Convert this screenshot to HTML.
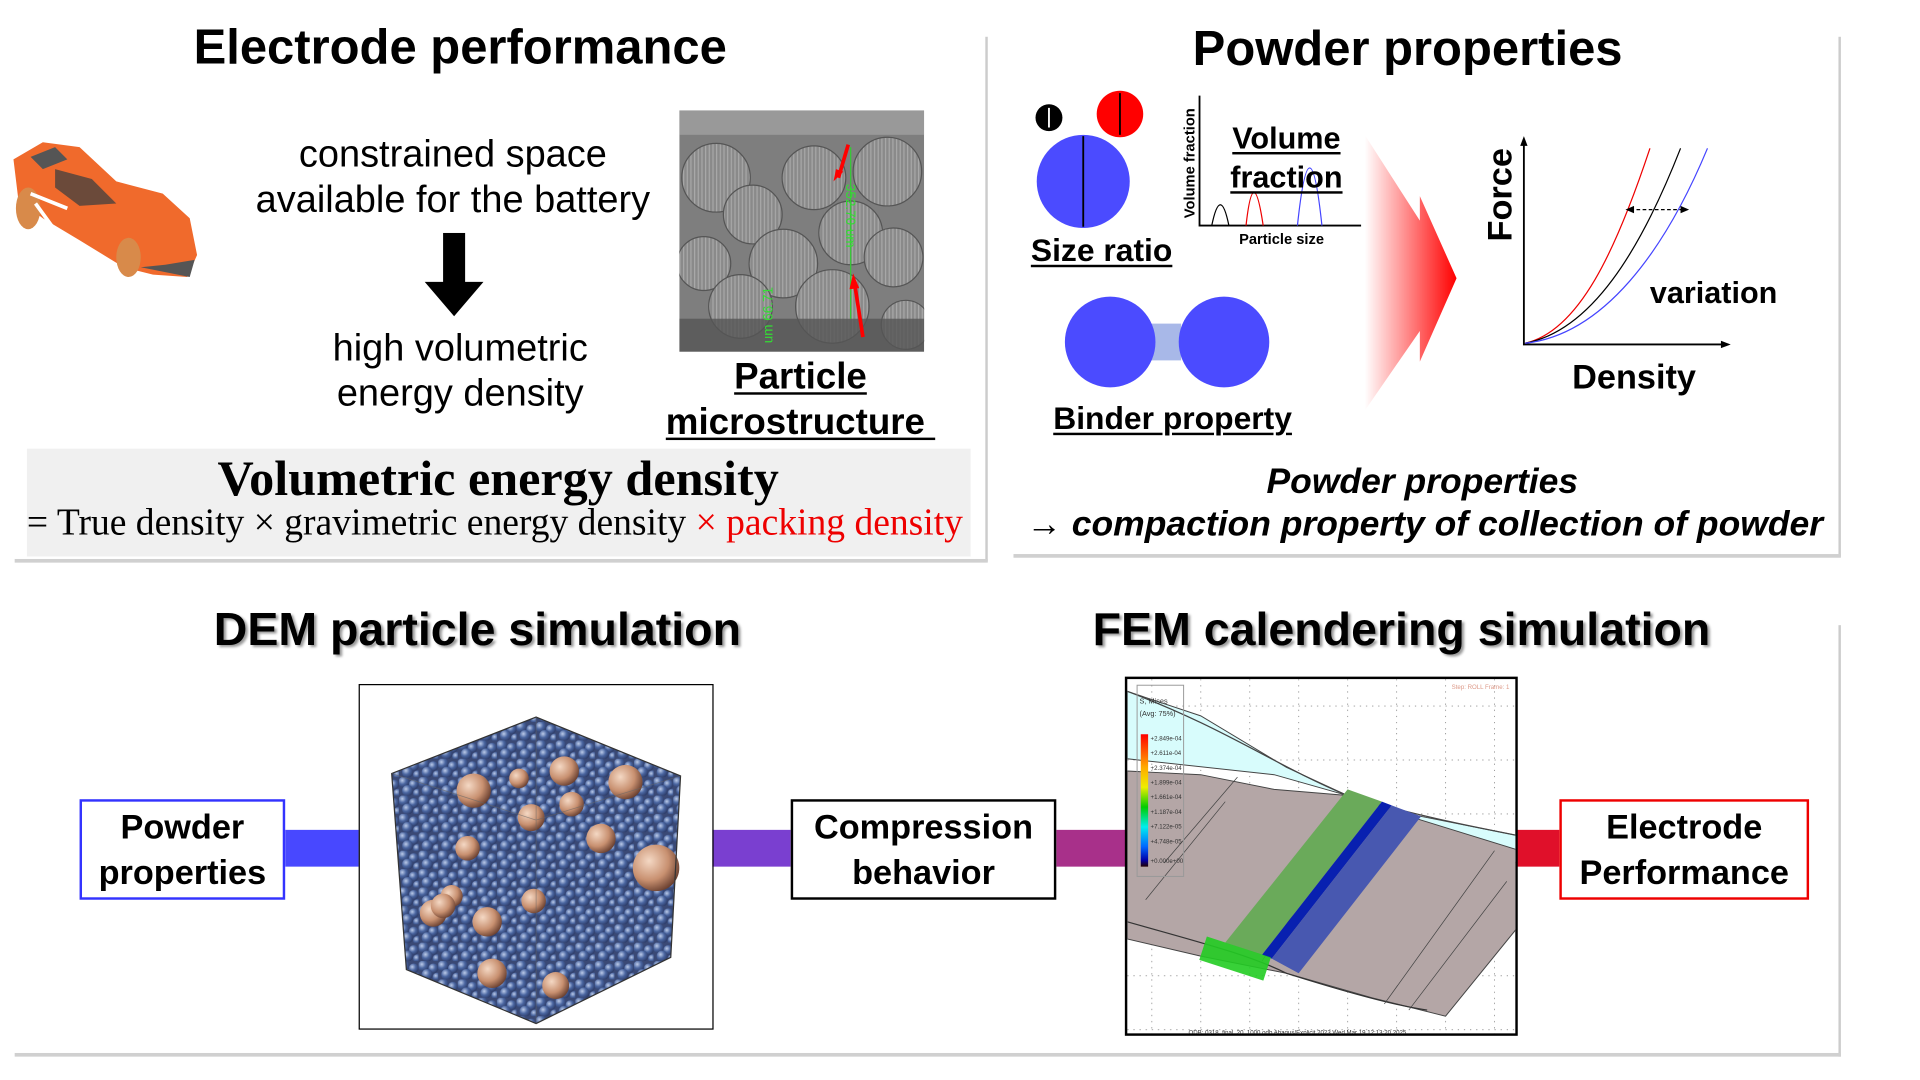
<!DOCTYPE html>
<html><head><meta charset="utf-8"><style>
html,body{margin:0;padding:0;background:#fff;width:1920px;height:1080px;overflow:hidden}
#w{position:absolute;left:0;top:0;width:1548px;height:871px;transform:scale(1.2240,1.2258);transform-origin:0 0;font-family:"Liberation Sans",sans-serif;color:#000}
.t{position:absolute;white-space:nowrap;text-align:center;transform:translateX(-50%)}
.b{font-weight:bold}
.u{text-decoration:underline;text-decoration-thickness:2px;text-underline-offset:3px}
.box{position:absolute;box-sizing:border-box;background:#fff;font-weight:bold;font-size:28px;line-height:37px;text-align:center;display:flex;align-items:center;justify-content:center}
.bar{position:absolute;top:677px;height:30px}
</style></head><body><div id="w">
<div style="position:absolute;left:805px;top:30px;width:2px;height:428px;background:#ccc"></div>
<div style="position:absolute;left:12px;top:456px;width:795px;height:3px;background:#d0d0d0"></div>
<div style="position:absolute;left:1502px;top:30px;width:2px;height:424px;background:#ccc"></div>
<div style="position:absolute;left:828px;top:452px;width:676px;height:3px;background:#d0d0d0"></div>
<div style="position:absolute;left:1502px;top:510px;width:2px;height:352px;background:#ccc"></div>
<div style="position:absolute;left:12px;top:859px;width:1492px;height:3px;background:#d0d0d0"></div>

<div class="t b" style="left:376px;top:17px;font-size:40px">Electrode performance</div>
<div class="t" style="left:370px;top:107px;font-size:31px;line-height:37px">constrained space<br>available for the battery</div>
<svg style="position:absolute;left:345px;top:190px" width="52" height="70"><polygon points="17,0 35,0 35,40 50,40 26,68 2,40 17,40" fill="#000"/></svg>
<div class="t" style="left:376px;top:265px;font-size:31px;line-height:37px">high volumetric<br>energy density</div>

<svg style="position:absolute;left:5px;top:108px" width="160" height="122">
<path d="M6,22 L30,8 L60,12 L90,40 L128,50 L150,70 L156,100 L148,118 L120,116 L96,110 L60,88 L30,70 L10,55 Z" fill="#f06a2c"/>
<path d="M20,20 L40,12 L50,22 L30,30 Z" fill="#555"/>
<path d="M40,30 L70,38 L90,58 L60,60 L40,45 Z" fill="#6b4a3a"/>
<ellipse cx="18" cy="62" rx="10" ry="17" fill="#d88a4a"/>
<ellipse cx="100" cy="102" rx="10" ry="16" fill="#d88a4a"/>
<path d="M110,110 L150,118 L154,104 L130,108 Z" fill="#555"/>
<path d="M20,50 L50,62 M24,58 L40,80" stroke="#fff" stroke-width="3"/>
</svg>

<svg style="position:absolute;left:555px;top:90px" width="200" height="197">
<defs><pattern id="vl" width="3" height="10" patternUnits="userSpaceOnUse"><rect width="3" height="10" fill="#8a8a8a"/><rect width="1" height="10" fill="#a8a8a8"/></pattern></defs>
<rect width="200" height="197" fill="#7e7e7e"/>
<rect width="200" height="20" fill="#999"/>
<g fill="url(#vl)" stroke="#555" stroke-width="1">
<circle cx="30" cy="55" r="28"/><circle cx="110" cy="55" r="26"/><circle cx="170" cy="50" r="28"/><circle cx="60" cy="85" r="24"/><circle cx="140" cy="100" r="26"/><circle cx="20" cy="125" r="22"/><circle cx="85" cy="125" r="28"/><circle cx="175" cy="120" r="24"/><circle cx="50" cy="160" r="26"/><circle cx="125" cy="160" r="30"/><circle cx="185" cy="175" r="20"/></g>
<rect y="170" width="200" height="27" fill="#555" opacity=".8"/>
<line x1="140" y1="30" x2="140" y2="170" stroke="#3c3" stroke-width="1"/>
<text x="136" y="60" fill="#3d3" font-size="11" transform="rotate(90 136 60)">352.70 um</text>
<text x="76" y="190" fill="#3d3" font-size="11" transform="rotate(-90 76 190)">um 66.71</text>
<path d="M138,28 L130,55" stroke="red" stroke-width="3"/><polygon points="126,58 128,48 134,50" fill="red"/>
<path d="M150,185 L143,140" stroke="red" stroke-width="3"/><polygon points="142,133 139,146 147,145" fill="red"/>
</svg>
<div class="t b u" style="left:654px;top:289px;font-size:30px;line-height:37px">Particle<br>microstructure&nbsp;</div>

<div style="position:absolute;left:22px;top:366px;width:771px;height:88px;background:#f0f0f0"></div>
<div class="t b" style="left:407px;top:366px;font-size:41px;font-family:'Liberation Serif',serif">Volumetric energy density</div>
<div style="position:absolute;left:22px;top:409px;font-size:30.7px;font-family:'Liberation Serif',serif;white-space:nowrap">= True density × gravimetric energy density <span style="color:#e00">× packing density</span></div>

<div class="t b" style="left:1150px;top:18px;font-size:40px">Powder properties</div>
<svg style="position:absolute;left:830px;top:60px" width="300" height="240">
<circle cx="27" cy="36" r="11" fill="#000"/><path d="M27,28 V44" stroke="#fff" stroke-width="1.5"/>
<circle cx="85" cy="33" r="19" fill="#f00"/><path d="M85,16 V50" stroke="#000" stroke-width="1.5"/>
<circle cx="55" cy="88" r="38" fill="#4b4bff"/><path d="M55,51 V125" stroke="#000" stroke-width="1.5"/>
<path d="M150,18 V124 H282" stroke="#000" stroke-width="1.5" fill="none"/>
<path d="M160,124 Q167,90 174,124" stroke="#000" fill="none"/>
<path d="M188,124 Q194,70 202,124" stroke="#e00" fill="none"/>
<path d="M230,124 Q240,30 250,124" stroke="#44f" fill="none"/>
<text x="146" y="118" font-size="12" transform="rotate(-90 146 118)" font-weight="bold">Volume fraction</text>
</svg>
<div class="t b" style="left:1047px;top:188px;font-size:12px">Particle size</div>
<div class="t b u" style="left:1051px;top:97px;font-size:25px;line-height:32px">Volume<br>fraction</div>
<div class="t b u" style="left:900px;top:189px;font-size:26px">Size ratio</div>
<svg style="position:absolute;left:865px;top:238px" width="180" height="85">
<rect x="70" y="26" width="30" height="30" fill="#a8b8e8"/>
<circle cx="42" cy="41" r="37" fill="#4b4bff"/><circle cx="135" cy="41" r="37" fill="#4b4bff"/>
</svg>
<div class="t b u" style="left:958px;top:326px;font-size:26px">Binder property</div>
<svg style="position:absolute;left:1110px;top:100px" width="90" height="240">
<defs><linearGradient id="rg" x1="0" x2="1"><stop offset="0" stop-color="#f00" stop-opacity="0"/><stop offset="1" stop-color="#f00"/></linearGradient></defs>
<polygon points="5,10 50,80 50,60 80,127 50,195 50,170 5,235" fill="url(#rg)"/>
</svg>
<svg style="position:absolute;left:1200px;top:105px" width="230" height="190">
<path d="M45,10 V176 H212" stroke="#000" stroke-width="1.5" fill="none"/>
<polygon points="45,6 42,14 48,14" /><polygon points="214,176 206,173 206,179"/>
<path d="M46,175 C90,165 120,100 148,16" stroke="#e00" fill="none"/>
<path d="M46,175 C100,165 140,100 173,16" stroke="#000" fill="none"/>
<path d="M46,175 C110,168 160,100 195,16" stroke="#44f" fill="none"/>
<path d="M132,66 H176" stroke="#000" stroke-dasharray="3,2"/>
<polygon points="128,66 135,63 135,69"/><polygon points="180,66 173,63 173,69"/>
<text x="35" y="92" font-size="28" font-weight="bold" transform="rotate(-90 35 92)" font-family="Liberation Sans">Force</text>
</svg>
<div class="t b" style="left:1400px;top:225px;font-size:25px">variation</div>
<div class="t b" style="left:1335px;top:292px;font-size:28px">Density</div>
<div class="t b" style="left:1162px;top:377px;font-size:29px;font-style:italic">Powder properties</div>
<div class="t b" style="left:1164px;top:412px;font-size:29px;font-style:italic">→ compaction property of collection of powder</div>

<div class="t b" style="left:390px;top:493px;font-size:38px;text-shadow:2px 2px 2px #999">DEM particle simulation</div>
<div class="t b" style="left:1145px;top:493px;font-size:38px;text-shadow:2px 2px 2px #999">FEM calendering simulation</div>

<div class="bar" style="left:233px;width:60px;background:#4848ff"></div>
<div class="bar" style="left:582px;width:64px;background:#7a3fd0"></div>
<div class="bar" style="left:863px;width:57px;background:#a8308a"></div>
<div class="bar" style="left:1239px;width:35px;background:#e0102a"></div>

<div class="box" style="left:65px;top:652px;width:168px;height:82px;border:2px solid #3333ff">Powder<br>properties</div>
<div class="box" style="left:646px;top:652px;width:217px;height:82px;border:2px solid #000">Compression<br>behavior</div>
<div class="box" style="left:1274px;top:652px;width:204px;height:82px;border:2px solid #ee0000">Electrode<br>Performance</div>

<svg style="position:absolute;left:293px;top:558px;border:1.5px solid #000;box-sizing:border-box" width="290" height="282">
<defs>
<radialGradient id="bs" cx=".35" cy=".35" r=".7"><stop offset="0" stop-color="#b8c8e8"/><stop offset=".5" stop-color="#3c5a9a"/><stop offset="1" stop-color="#1a2a5a"/></radialGradient>
<radialGradient id="ts" cx=".35" cy=".35" r=".7"><stop offset="0" stop-color="#f4d8c4"/><stop offset=".6" stop-color="#c89070"/><stop offset="1" stop-color="#6a4030"/></radialGradient>
<pattern id="bp" width="16" height="15" patternUnits="userSpaceOnUse"><rect width="16" height="15" fill="#2a3a6a"/><circle cx="4" cy="4" r="4.5" fill="url(#bs)"/><circle cx="12" cy="6" r="4" fill="url(#bs)"/><circle cx="7" cy="11" r="4.5" fill="url(#bs)"/><circle cx="15" cy="13" r="3.5" fill="url(#bs)"/></pattern>
<clipPath id="cc"><polygon points="144,26 262,74 254,222 144,276 38,232 26,72"/></clipPath>
</defs>
<g clip-path="url(#cc)"><rect width="290" height="282" fill="url(#bp)"/><rect width="290" height="282" fill="#fff" opacity=".08"/></g>
<g fill="url(#ts)">
<circle cx="93" cy="86" r="14"/><circle cx="167" cy="70" r="12"/><circle cx="217" cy="79" r="14"/><circle cx="173" cy="97" r="10"/><circle cx="140" cy="108" r="11"/><circle cx="197" cy="125" r="12"/><circle cx="242" cy="149" r="19"/><circle cx="88" cy="133" r="10"/><circle cx="104" cy="193" r="12"/><circle cx="60" cy="186" r="11"/><circle cx="142" cy="176" r="10"/><circle cx="75" cy="172" r="9"/><circle cx="160" cy="245" r="11"/><circle cx="108" cy="235" r="12"/><circle cx="130" cy="76" r="8"/><circle cx="68" cy="180" r="10"/></g>
<polygon points="144,26 262,74 254,222 144,276 38,232 26,72" fill="none" stroke="#333" stroke-width="1"/>
<path d="M144,26 L144,150 M26,72 L144,110 L262,74 M144,276 L144,150" stroke="#666" stroke-width=".6" fill="none" opacity=".6"/>
</svg>

<svg style="position:absolute;left:919px;top:552px;border:2px solid #000;box-sizing:border-box" width="321" height="293">
<defs><pattern id="dg" width="40" height="44" patternUnits="userSpaceOnUse"><path d="M20,0 V44 M0,22 H40" stroke="#999" stroke-width=".8" stroke-dasharray="1,4"/></pattern>
<linearGradient id="lg" x1="0" y1="0" x2="0" y2="1"><stop offset="0" stop-color="#f00"/><stop offset=".25" stop-color="#fa0"/><stop offset=".4" stop-color="#ee0"/><stop offset=".55" stop-color="#0c0"/><stop offset=".7" stop-color="#0ee"/><stop offset=".85" stop-color="#06f"/><stop offset=".95" stop-color="#00a"/><stop offset="1" stop-color="#200"/></linearGradient></defs>
<rect width="321" height="293" fill="url(#dg)"/>
<polygon points="0,10 60,30 130,72 180,95 230,110 321,128 321,150 260,140 180,95 120,78 0,65" fill="#d8fcfc" stroke="#444" stroke-width=".8"/>
<path d="M0,10 C80,40 120,70 180,95 C230,110 280,120 321,128" stroke="#444" fill="none"/>
<polygon points="0,75 60,78 120,90 180,95 240,115 321,140 321,200 260,275 200,260 130,240 60,226 0,212" fill="#b4a6a6" stroke="#444" stroke-width=".8"/>
<path d="M0,198 C60,215 100,225 130,240 C200,262 230,268 245,270" stroke="#333" fill="none"/>
<path d="M30,150 L90,80 M15,180 L80,100 M210,265 L300,140 M230,270 L310,165 M110,230 L190,110" stroke="#444" stroke-width=".6" fill="none"/>
<polygon points="180,90 208,100 110,225 80,215" fill="#6aaa5a"/>
<polygon points="208,100 216,103 118,228 110,225" fill="#0820b0"/>
<polygon points="216,103 240,112 140,240 118,228" fill="#4858b0"/>
<rect x="65" y="210" width="55" height="20" fill="#2c2" transform="rotate(18 65 210)" opacity=".9"/>
<rect x="8" y="5" width="38" height="156" fill="none" stroke="#999" stroke-width=".8"/>
<rect x="11" y="45" width="6" height="108" fill="url(#lg)"/>
<text x="10" y="20" font-size="6" fill="#333">S, Mises</text><text x="10" y="30" font-size="6" fill="#333">(Avg: 75%)</text>
<g font-size="5" fill="#333"><text x="19" y="50">+2.849e-04</text><text x="19" y="62">+2.611e-04</text><text x="19" y="74">+2.374e-04</text><text x="19" y="86">+1.899e-04</text><text x="19" y="98">+1.661e-04</text><text x="19" y="110">+1.187e-04</text><text x="19" y="122">+7.122e-05</text><text x="19" y="134">+4.748e-05</text><text x="19" y="150">+0.000e+00</text></g>
<text x="265" y="8" font-size="5" fill="#d98">Step: ROLL  Frame: 1</text>
<text x="50" y="290" font-size="5" fill="#333">ODB: 0318_final_20_1000.odb   Abaqus/Explicit 2023   Wed Mar 19 12:13:20 2025</text>
</svg>
</div></body></html>
